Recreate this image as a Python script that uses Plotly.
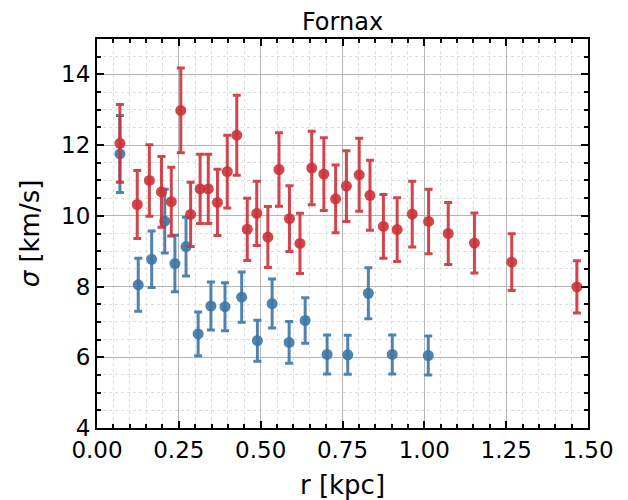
import plotly.graph_objects as go

# red sample
r_red = [0.070, 0.123, 0.160, 0.197, 0.227, 0.256, 0.286, 0.315, 0.340, 0.368,
         0.398, 0.427, 0.459, 0.488, 0.522, 0.556, 0.588, 0.620, 0.656, 0.693,
         0.729, 0.762, 0.801, 0.834, 0.875, 0.917, 0.963, 1.013, 1.073, 1.153,
         1.267, 1.466]
sig_red = [12.05, 10.32, 11.00, 10.68, 10.40, 12.98, 10.04, 10.76, 10.76, 10.38,
           11.25, 12.28, 9.62, 10.07, 9.40, 11.31, 9.92, 9.22, 11.35, 11.18,
           10.48, 10.84, 11.16, 10.58, 9.70, 9.61, 10.05, 9.84, 9.50, 9.23,
           8.69, 7.99]
err_red = [1.10, 0.96, 1.01, 1.00, 0.97, 1.20, 0.91, 0.98, 0.98, 0.94,
           1.03, 1.13, 0.88, 0.91, 0.86, 1.04, 0.93, 0.85, 1.04, 1.03,
           0.96, 1.00, 1.03, 0.99, 0.90, 0.90, 0.93, 0.91, 0.88, 0.85,
           0.80, 0.74]

# blue sample
r_blue = [0.070, 0.126, 0.167, 0.207, 0.238, 0.272, 0.309, 0.348, 0.391, 0.442,
          0.490, 0.535, 0.587, 0.636, 0.703, 0.766, 0.829, 0.902, 1.012]
sig_blue = [11.75, 8.05, 8.77, 9.85, 8.65, 9.13, 6.66, 7.45, 7.43, 7.70,
            6.47, 7.52, 6.42, 7.04, 6.08, 6.07, 7.81, 6.08, 6.05]
err_blue = [1.09, 0.75, 0.80, 0.90, 0.80, 0.83, 0.62, 0.68, 0.68, 0.71,
            0.58, 0.69, 0.59, 0.64, 0.55, 0.55, 0.72, 0.55, 0.55]

blue = "rgba(62,118,166,0.9)"
red = "rgba(204,50,56,0.9)"

fig = go.Figure()

fig.add_trace(go.Scatter(
    x=r_blue, y=sig_blue, mode="markers",
    marker=dict(color=blue, size=11),
    error_y=dict(type="data", array=err_blue, color=blue, thickness=3, width=4),
    showlegend=False
))
fig.add_trace(go.Scatter(
    x=r_red, y=sig_red, mode="markers",
    marker=dict(color=red, size=11),
    error_y=dict(type="data", array=err_red, color=red, thickness=3, width=4),
    showlegend=False
))

axis_common = dict(
    showline=True, linecolor="black", linewidth=2, mirror="allticks",
    ticks="inside", ticklen=7, tickwidth=1.5, tickcolor="black",
    showgrid=True, gridcolor="#b5b5b5", gridwidth=1, zeroline=False,
    automargin=False,
    tickfont=dict(family="DejaVu Sans", size=23, color="black"),
)

# page body has an 8px margin, so the figure is sized to fit inside it
fig.update_layout(
    width=620, height=492,
    margin=dict(l=89, r=40, t=31, b=72),
    plot_bgcolor="white", paper_bgcolor="white",
    title=dict(text="Fornax", xref="paper", x=0.5, xanchor="center", y=0.973, yanchor="middle",
               font=dict(family="DejaVu Sans", size=24, color="black")),
    xaxis=dict(
        range=[0, 1.5], tickmode="linear", tick0=0, dtick=0.25, tickformat=".2f",
        title=dict(text="r [kpc]", font=dict(family="DejaVu Sans", size=26, color="black"), standoff=14),
        minor=dict(ticks="inside", ticklen=4, tickcolor="black", dtick=0.05,
                   showgrid=True, gridcolor="#dddddd", griddash="dot", gridwidth=1),
        **axis_common
    ),
    yaxis=dict(
        range=[4, 15], tickmode="linear", tick0=4, dtick=2,
        title=dict(text="<i>σ</i> [km/s]", font=dict(family="DejaVu Sans", size=26, color="black"), standoff=14),
        minor=dict(ticks="inside", ticklen=4, tickcolor="black", dtick=0.5,
                   showgrid=True, gridcolor="#dddddd", griddash="dot", gridwidth=1),
        **axis_common
    ),
)

fig.write_html("out.html")
